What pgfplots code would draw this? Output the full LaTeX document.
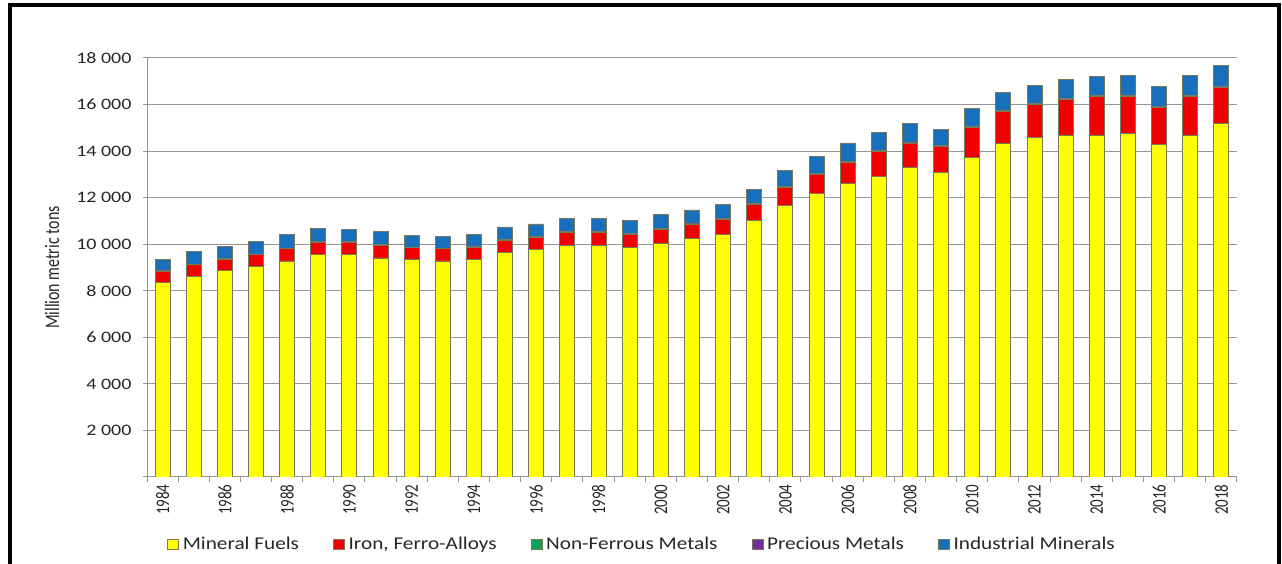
\documentclass[border=0pt]{standalone}
\usepackage{pgfplots}
\pgfplotsset{compat=1.18}
\usepackage{pgfplotstable}
\usepackage{fontspec}
\setmainfont{Carlito}
\newfontfamily\wide[FakeStretch=1.25]{Carlito}
\newfontfamily\legfont[FakeStretch=1.18]{Carlito}
\newcommand\rot[1]{\scalebox{1}[1.28]{#1}}

\definecolor{cfuel}{HTML}{FFFF00}
\definecolor{ciron}{HTML}{F00000}
\definecolor{cnonf}{HTML}{10A05A}
\definecolor{cprec}{HTML}{7030A0}
\definecolor{cind}{HTML}{1870BC}
\definecolor{cedge}{RGB}{120,120,90}
\definecolor{cgrid}{RGB}{150,150,150}

% Million metric tons
\pgfplotstableread{
year fuel iron nonfer prec ind
1984 8370 480 25 0.03 475
1985 8630 490 25 0.03 535
1986 8880 470 25 0.03 525
1987 9040 500 25 0.03 545
1988 9280 530 25 0.03 565
1989 9540 550 25 0.03 575
1990 9570 520 25 0.03 535
1991 9410 550 25 0.03 545
1992 9340 500 25 0.03 525
1993 9280 530 25 0.03 505
1994 9330 550 25 0.03 525
1995 9630 540 25 0.03 545
1996 9790 500 30 0.03 550
1997 9930 570 30 0.03 570
1998 9930 570 30 0.03 570
1999 9860 570 30 0.03 540
2000 10040 610 30 0.03 580
2001 10250 620 30 0.03 570
2002 10430 640 30 0.03 590
2003 11030 670 35 0.03 625
2004 11670 760 35 0.03 685
2005 12170 830 35 0.03 715
2006 12600 930 40 0.03 780
2007 12930 1060 40 0.03 750
2008 13290 1060 40 0.03 790
2009 13080 1120 40 0.03 680
2010 13740 1290 40 0.03 750
2011 14340 1360 40 0.03 760
2012 14580 1410 45 0.03 785
2013 14670 1530 45 0.03 845
2014 14670 1680 45 0.03 805
2015 14750 1600 45 0.03 865
2016 14290 1600 45 0.03 855
2017 14670 1680 45 0.03 855
2018 15180 1570 45 0.03 865
}\minerals

\begin{document}
\begin{tikzpicture}
\path[use as bounding box] (0pt,0pt) rectangle (1282pt,564pt);
\draw[line width=4pt] (10pt,0pt) -- (10pt,559pt) -- (1279pt,559pt) -- (1279pt,0pt);
\begin{axis}[
    at={(147pt,87pt)}, anchor=south west,
    scale only axis, width=1090pt, height=419pt,
    ybar stacked, bar width=15pt,
    xmin=-0.5, xmax=34.5, ymin=0, ymax=18000,
    axis x line*=bottom, axis y line*=left,
    axis line style={draw=cgrid, line width=1pt},
    ymajorgrids, grid style={draw=cgrid, line width=1pt},
    scaled y ticks=false,
    ytick={0,2000,...,18000},
    yticklabels={,2 000,4 000,6 000,8 000,10 000,12 000,14 000,16 000,18 000},
    yticklabel style={font=\wide\fontsize{16}{16}\selectfont, text=black!85, xshift=-8pt},
    xtick={0,2,...,34},
    xticklabels={\rot{1984},\rot{1986},\rot{1988},\rot{1990},\rot{1992},\rot{1994},\rot{1996},\rot{1998},\rot{2000},\rot{2002},\rot{2004},\rot{2006},\rot{2008},\rot{2010},\rot{2012},\rot{2014},\rot{2016},\rot{2018}},
    xticklabel style={rotate=90, anchor=east, font=\fontsize{15}{15}\selectfont, text=black!85},
    minor xtick={-0.5,0.5,...,34.5},
    tick align=outside,
    major x tick style={draw=none},
    minor tick length=5pt, major tick length=4pt,
    tick style={draw=cgrid, line width=1pt},
    ylabel={\rot{Million metric tons}},
    ylabel style={at={(axis description cs:-0.087,0.5)}, anchor=center, font=\fontsize{16}{16}\selectfont, text=black!85},
    every axis plot/.append style={draw=cedge, line width=0.9pt},
    legend columns=5,
    legend style={at={(0.0156,-0.16)}, anchor=west, draw=none, fill=none,
        font=\legfont\fontsize{18}{18}\selectfont, text=black!85,
        /tikz/every odd column/.append style={column sep=2pt},
        /tikz/every even column/.append style={column sep=32pt}},
    legend image code/.code={\draw[#1, line width=0.6pt] (0pt,-5pt) rectangle (11pt,5pt);},
]
\addplot[fill=cfuel] table[x expr=\coordindex, y=fuel] {\minerals};
\addlegendentry{Mineral Fuels}
\addplot[fill=ciron] table[x expr=\coordindex, y=iron] {\minerals};
\addlegendentry{Iron, Ferro-Alloys}
\addplot[fill=cnonf] table[x expr=\coordindex, y=nonfer] {\minerals};
\addlegendentry{Non-Ferrous Metals}
\addplot[fill=cprec] table[x expr=\coordindex, y=prec] {\minerals};
\addlegendentry{Precious Metals}
\addplot[fill=cind] table[x expr=\coordindex, y=ind] {\minerals};
\addlegendentry{Industrial Minerals}
\end{axis}
\end{tikzpicture}
\end{document}
